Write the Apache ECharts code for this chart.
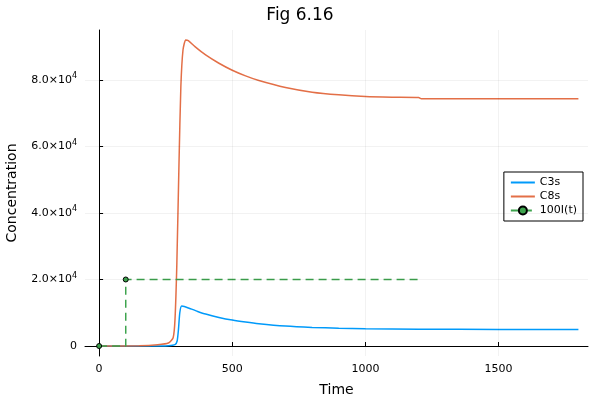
<!DOCTYPE html>
<html><head><meta charset="utf-8">
<script src="https://cdn.jsdelivr.net/npm/echarts@6/dist/echarts.min.js"></script>
<style>html,body{margin:0;padding:0;background:#fff}#c{width:600px;height:400px}</style>
</head><body><div id="c"></div>
<script>
// values: [time, concentration]
var c3s = [[0,0],[200,0],[260,100],[285,400],[293,1500],[298,5000],[303,10000],[310,12000],[320,11900],[340,11300],[370,10400],[400,9600],[450,8600],[500,7800],[550,7200],[600,6700],[700,6000],[800,5600],[900,5350],[1000,5200],[1200,5050],[1500,5000],[1800,5000]];
var c8s = [[0,0],[150,100],[220,400],[260,900],[278,2500],[285,8000],[292,25000],[300,55000],[307,78000],[315,89000],[325,92000],[335,91800],[360,90000],[400,87500],[450,85000],[500,82900],[550,81200],[600,79800],[700,77700],[800,76300],[900,75500],[1000,75000],[1100,74800],[1200,74700],[1210,74300],[1800,74300]];
var input = [[0,0],[100,0],[100,20000],[1200,20000]];
var inputMarked = [true,false,true,false];
var xTicks = [0,500,1000,1500];
var yTicks = [0,20000,40000,60000,80000];

var chart = echarts.init(document.getElementById('c'));
var font = 'DejaVu Sans';
var lineIcon = 'path://M0,0h24v2h-24z';

function yLabel(v) {
  if (v === 0) return '0';
  var e = Math.floor(Math.log10(v));
  return (v / Math.pow(10, e)).toFixed(1) + '×10{sup|' + e + '}';
}

chart.setOption({
  animation: false,
  title: { text: 'Fig 6.16', left: 'center', top: 2, textStyle: { fontFamily: font, fontSize: 17, fontWeight: 'normal', color: '#000' } },
  grid: { left: 85, right: 12, top: 30, bottom: 44, outerBoundsMode: 'none', containLabel: false },
  legend: {
    right: 17, top: 172, orient: 'vertical', itemWidth: 24, itemHeight: 10, itemGap: 3,
    borderColor: '#000', borderWidth: 1, padding: [5, 6], backgroundColor: '#fff', borderRadius: 0,
    textStyle: { fontFamily: font, fontSize: 11, color: '#000' },
    data: [{ name: 'C3s', icon: lineIcon, itemStyle: { color: '#009AFA' } },
           { name: 'C8s', icon: lineIcon, itemStyle: { color: '#E36F47' } },
           '100I(t)']
  },
  xAxis: {
    type: 'value', min: -53, max: 1836, name: 'Time', nameLocation: 'middle', nameGap: 27,
    nameTextStyle: { fontFamily: font, fontSize: 14, color: '#000' },
    axisLine: { lineStyle: { color: '#000' } },
    axisTick: { customValues: xTicks, length: -4, lineStyle: { color: '#000' } },
    axisLabel: { customValues: xTicks, fontFamily: font, fontSize: 11, color: '#000', formatter: function (v) { return String(v); } },
    splitLine: { show: false }
  },
  yAxis: {
    type: 'value', min: -3000, max: 95000, name: 'Concentration', nameLocation: 'middle', nameGap: 66,
    nameTextStyle: { fontFamily: font, fontSize: 14, color: '#000' },
    axisLine: { show: true, lineStyle: { color: '#000' } },
    axisTick: { customValues: yTicks, length: -4, lineStyle: { color: '#000' } },
    axisLabel: { customValues: yTicks, fontFamily: font, fontSize: 11, color: '#000', formatter: yLabel,
      rich: { sup: { fontSize: 8, verticalAlign: 'top', padding: [0, 0, 8, 0], fontFamily: font } } },
    splitLine: { show: false }
  },
  series: [
    { name: 'grid', type: 'line', data: [], silent: true,
      markLine: { symbol: 'none', silent: true, label: { show: false },
        lineStyle: { color: '#000', opacity: 0.1, width: 0.5, type: 'solid' },
        data: xTicks.map(function (v) { return { xAxis: v }; }).concat(yTicks.map(function (v) { return { yAxis: v }; })) } },
    { name: 'C3s', type: 'line', data: c3s, symbol: 'none', smooth: 0.2, color: '#009AFA', lineStyle: { width: 1.5 } },
    { name: 'C8s', type: 'line', data: c8s, symbol: 'none', smooth: 0.2, color: '#E36F47', lineStyle: { width: 1.5 } },
    { name: '100I(t)', type: 'line', color: '#3EA44E', symbol: 'circle', symbolSize: 5,
      itemStyle: { color: '#3EA44E', borderColor: '#000', borderWidth: 1 },
      lineStyle: { width: 1.5, type: [8, 5] },
      data: input.map(function (p, i) { return inputMarked[i] ? p : { value: p, symbol: 'none' }; }) }
  ]
});
</script></body></html>
